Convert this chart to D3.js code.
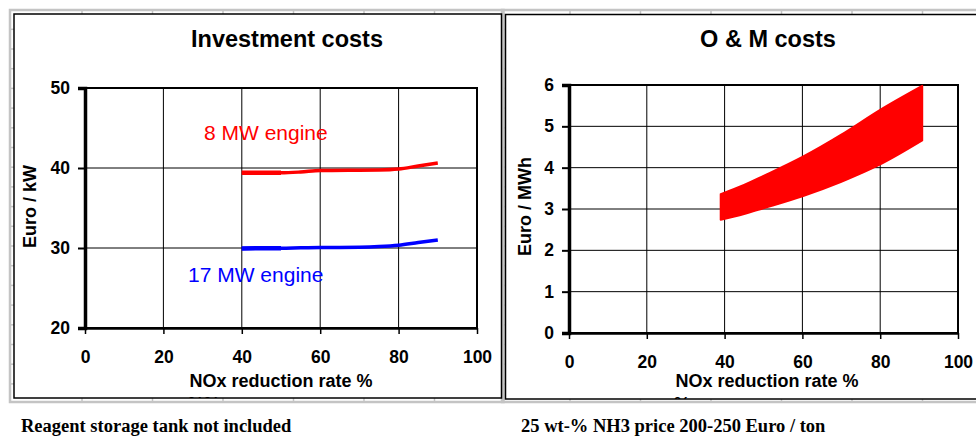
<!DOCTYPE html>
<html>
<head>
<meta charset="utf-8">
<script src="https://cdn.jsdelivr.net/npm/d3@7"></script>
<style>
  body { margin: 0; background: #fff; }
  svg { display: block; }
</style>
</head>
<body>
<svg width="976" height="437"></svg>
<script>
// NOx reduction rate, x axis of both charts
const xTicks = [0, 20, 40, 60, 80, 100];

// investment costs, Euro / kW
const investTicks = [20, 30, 40, 50];
const investX = [40, 50, 55, 60, 70, 75, 80, 85, 90];
const engine8 = [39.4, 39.4, 39.5, 39.68, 39.73, 39.75, 39.87, 40.25, 40.62];
const engine17 = [29.95, 29.97, 30.02, 30.06, 30.1, 30.18, 30.35, 30.68, 31.0];

// O & M costs, Euro / MWh (NH3 200 and 250 Euro / ton)
const omTicks = [0, 1, 2, 3, 4, 5, 6];
const omX = [39, 45, 50, 60, 70, 80, 90.8];
const omLow = [2.74, 2.88, 3.02, 3.31, 3.66, 4.08, 4.66];
const omHigh = [3.36, 3.58, 3.8, 4.26, 4.8, 5.4, 5.98];

var svg = d3.select("svg");
svg.append("rect").attr("width", 976).attr("height", 437).attr("fill", "#fff");

var grey = "#c4c4c4";

// spreadsheet frame behind each chart object
function sheetFrame(x0, y0, x1, y1, bx, by, bx1, by1) {
    svg.append("rect")
        .attr("x", x0).attr("y", y0)
        .attr("width", x1 - x0).attr("height", y1 - y0)
        .attr("fill", "none").attr("stroke", grey).attr("stroke-width", 2.5);
    // little bits of cell grid showing between frame and chart border
    for (let x = bx; x < Math.min(x1, 976); x += 70.5) {
        svg.append("line").attr("x1", x).attr("x2", x).attr("y1", y0).attr("y2", by)
            .attr("stroke", grey).attr("stroke-width", 1.5);
        svg.append("line").attr("x1", x).attr("x2", x).attr("y1", by1).attr("y2", y1)
            .attr("stroke", grey).attr("stroke-width", 1.5);
    }
    for (let y = 29.3; y < y1 - 5; y += 19.7) {
        svg.append("line").attr("x1", x0).attr("x2", x0 + 4).attr("y1", y).attr("y2", y)
            .attr("stroke", grey).attr("stroke-width", 1.5);
    }
}

sheetFrame(10, 10, 503.5, 402, 82, 14, 501, 398);
sheetFrame(502, 10, 995, 402, 570, 14.5, 995, 399);

function drawChart(o) {
    var panel = svg.append("g");
    var clipId = "clip" + o.id;
    svg.append("clipPath").attr("id", clipId)
        .append("rect").attr("x", o.frame[0]).attr("y", o.frame[1])
        .attr("width", o.frame[2] - o.frame[0]).attr("height", o.frame[3] - o.frame[1]);

    panel.append("rect")
        .attr("x", o.frame[0]).attr("y", o.frame[1])
        .attr("width", o.frame[2] - o.frame[0]).attr("height", o.frame[3] - o.frame[1])
        .attr("fill", "#fff").attr("stroke", "#000").attr("stroke-width", 1.5);

    var x = d3.scaleLinear().domain([0, 100]).range([o.left, o.right]);
    var y = d3.scaleLinear().domain(o.yDomain).range([o.bottom, o.top]);
    var w = o.right - o.left, h = o.bottom - o.top;

    // grid
    panel.append("g").selectAll("line").data(xTicks).enter().append("line")
        .attr("x1", d => x(d)).attr("x2", d => x(d))
        .attr("y1", o.top).attr("y2", o.bottom)
        .attr("stroke", "#000").attr("stroke-width", 1);
    panel.append("g").selectAll("line").data(o.yTicks).enter().append("line")
        .attr("x1", o.left).attr("x2", o.right)
        .attr("y1", d => y(d)).attr("y2", d => y(d))
        .attr("stroke", "#000").attr("stroke-width", 1);

    // plot border: thin top / right
    panel.append("rect").attr("x", o.left).attr("y", o.top)
        .attr("width", w).attr("height", h)
        .attr("fill", "none").attr("stroke", "#000").attr("stroke-width", 2);

    o.marks(panel, x, y);

    var yAxis = panel.append("g")
        .attr("transform", "translate(" + o.left + ",0)")
        .call(d3.axisLeft(y).tickValues(o.yTicks).tickSize(7).tickPadding(8).tickFormat(d3.format("d")));
    yAxis.select(".domain").attr("stroke-width", 3.5);
    yAxis.selectAll(".tick line").attr("stroke-width", 2);

    var xAxis = panel.append("g")
        .attr("transform", "translate(0," + o.bottom + ")")
        .call(d3.axisBottom(x).tickValues(xTicks).tickSize(6).tickPadding(17).tickSizeOuter(0));
    xAxis.select(".domain").attr("stroke-width", 2.5);
    xAxis.selectAll(".tick line").attr("stroke-width", 1.5);

    panel.selectAll(".tick text")
        .attr("font-family", "Liberation Sans, Arial, sans-serif")
        .attr("font-size", "17.5px").attr("font-weight", "bold").attr("fill", "#000");

    panel.append("text")
        .attr("x", o.titleX).attr("y", 46.5)
        .attr("text-anchor", "middle")
        .attr("font-family", "Liberation Sans, Arial, sans-serif")
        .attr("font-size", "23.5px").attr("font-weight", "bold")
        .text(o.title);

    panel.append("text")
        .attr("transform", "translate(" + o.yLabelX + ",206.5) rotate(-90)")
        .attr("text-anchor", "middle")
        .attr("font-family", "Liberation Sans, Arial, sans-serif")
        .attr("font-size", "18px").attr("font-weight", "bold")
        .text(o.yLabel);

    panel.append("text")
        .attr("x", o.xLabelX).attr("y", 386.5)
        .attr("text-anchor", "middle")
        .attr("font-family", "Liberation Sans, Arial, sans-serif")
        .attr("font-size", "18px").attr("font-weight", "bold")
        .text(o.xLabel);

    // second line of the axis title, mostly hidden under the border
    panel.append("text")
        .attr("clip-path", "url(#" + clipId + ")")
        .attr("x", o.xLabelX - 93).attr("y", 410)
        .attr("font-family", "Liberation Sans, Arial, sans-serif")
        .attr("font-size", "18px").attr("font-weight", "bold")
        .text(o.extra);
}

drawChart({
    id: "inv", frame: [14, 14, 501.5, 398],
    left: 85, right: 477, top: 88, bottom: 328,
    yDomain: [20, 50], yTicks: investTicks,
    title: "Investment costs", titleX: 287,
    yLabel: "Euro / kW", yLabelX: 36,
    xLabel: "NOx reduction rate %", xLabelX: 281, extra: "%%",
    marks: function (g, x, y) {
        var line = d3.line().curve(d3.curveMonotoneX)
            .x(d => x(d[0])).y(d => y(d[1]));
        g.append("path").datum(d3.zip(investX, engine8))
            .attr("d", line).attr("fill", "none")
            .attr("stroke", "#ff0000").attr("stroke-width", 3.5);
        // first stretch is drawn heavier in the original
        g.append("path").datum(d3.zip(investX, engine8).slice(0, 2))
            .attr("d", line).attr("fill", "none")
            .attr("stroke", "#ff0000").attr("stroke-width", 4.5);
        g.append("path").datum(d3.zip(investX, engine17))
            .attr("d", line).attr("fill", "none")
            .attr("stroke", "#0000ff").attr("stroke-width", 3.5);
        g.append("path").datum(d3.zip(investX, engine17).slice(0, 2))
            .attr("d", line).attr("fill", "none")
            .attr("stroke", "#0000ff").attr("stroke-width", 4.5);
        g.append("text").attr("x", 204).attr("y", 140)
            .attr("font-family", "Liberation Sans, Arial, sans-serif")
            .attr("font-size", "21px").attr("fill", "#ff0000")
            .text("8 MW engine");
        g.append("text").attr("x", 188).attr("y", 282)
            .attr("font-family", "Liberation Sans, Arial, sans-serif")
            .attr("font-size", "21px").attr("fill", "#0000ff")
            .text("17 MW engine");
    }
});

drawChart({
    id: "om", frame: [505.5, 14.5, 990, 399],
    left: 569, right: 958, top: 85, bottom: 333,
    yDomain: [0, 6], yTicks: omTicks,
    title: "O & M costs", titleX: 768,
    yLabel: "Euro / MWh", yLabelX: 531,
    xLabel: "NOx reduction rate  %", xLabelX: 767, extra: "%",
    marks: function (g, x, y) {
        var band = d3.area().curve(d3.curveMonotoneX)
            .x(d => x(d[0])).y0(d => y(d[1])).y1(d => y(d[2]));
        g.append("path").datum(d3.zip(omX, omLow, omHigh))
            .attr("d", band)
            .attr("fill", "#ff0000").attr("stroke", "#ff0000")
            .attr("stroke-width", 2).attr("stroke-linejoin", "round");
    }
});

svg.append("text").attr("x", 21).attr("y", 432)
    .attr("font-family", "Liberation Serif, Times New Roman, serif")
    .attr("font-size", "18.5px").attr("font-weight", "bold")
    .text("Reagent storage tank not included");
svg.append("text").attr("x", 521).attr("y", 432)
    .attr("font-family", "Liberation Serif, Times New Roman, serif")
    .attr("font-size", "18.5px").attr("font-weight", "bold")
    .text("25 wt-% NH3 price 200-250 Euro / ton");
</script>
</body>
</html>
